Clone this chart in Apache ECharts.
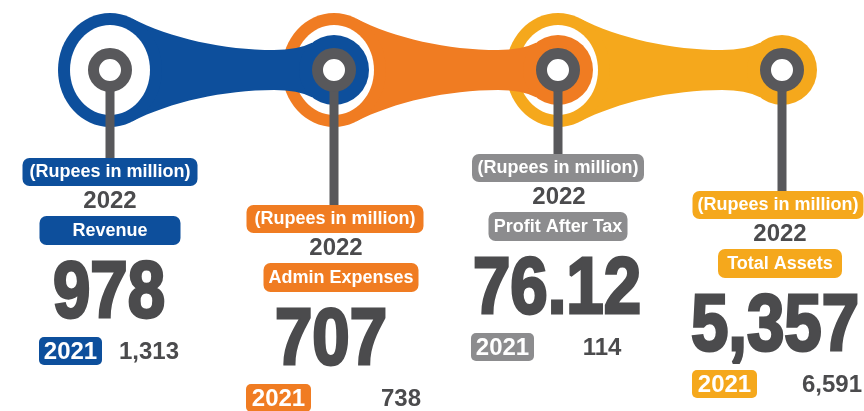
<!DOCTYPE html>
<html><head><meta charset="utf-8">
<script src="https://cdn.jsdelivr.net/npm/echarts@6/dist/echarts.min.js"></script>
<style>html,body{margin:0;padding:0;background:#fff}#c{width:864px;height:411px}</style>
</head><body><div id="c"></div>
<script>
// ---- data ----
const categories = ['Revenue', 'Admin Expenses', 'Profit After Tax', 'Total Assets'];
const values2022 = [978, 707, 76.12, 5357];
const values2021 = [1313, 738, 114, 6591];
const currentYear = '2022';
const previousYear = '2021';
const unitLabel = '(Rupees in million)';

// ---- styles / layout ----
const labelColors = ['#0d4f9c', '#f07c22', '#8c8c8e', '#f5a81c'];
const chainColors = ['#0d4f9c', '#f07c22', '#f5a81c'];
const textDark = '#4b4b4d';
const ringGrey = '#58585b';
const blockTop = [158, 205, 154, 191];
const unitDx = [0, 1, 0, -4];
const unitW = [175, 177, 172, 171];
const yearDx = [0, 2, 1, -2];
const nameDx = [0, 7, 0, -2];
const nameW = [141, 155, 139, 124];
const bigDx = [-1, -3, -1, -7];
const prevBoxDx = [-71, -88, -87, -90];
const prevBoxW = [63, 65, 63, 65];
const prevValDx = [39, 67, 44, 50];
const CY = 70;
const FONT = '"Liberation Sans", Arial, sans-serif';

function fmt(v) { return v.toLocaleString('en-US', {maximumFractionDigits: 2}); }
function txt(x, y, text, size, fill, extra) {
  return Object.assign({
    type: 'text', x: x, y: y,
    style: {text: text, font: 'bold ' + size + 'px ' + FONT, fill: fill,
      align: 'center', textAlign: 'center', verticalAlign: 'middle', textVerticalAlign: 'middle'}
  }, extra || {});
}

const chart = echarts.init(document.getElementById('c'), null, {renderer: 'canvas'});
chart.setOption({
  animation: false,
  backgroundColor: '#fff',
  grid: {left: 110, right: 82, top: 0, bottom: 0},
  xAxis: {type: 'category', data: categories, boundaryGap: false, show: false},
  yAxis: {type: 'value', min: 0, max: 1, show: false},
  series: [
    {
      type: 'custom', name: 'chain', z: 2,
      data: chainColors.map((c, i) => [i]),
      encode: {x: 0},
      renderItem: function (params, api) {
        const i = api.value(0);
        const ax = api.coord([i, 0])[0];
        const bx = api.coord([i + 1, 0])[0];
        const col = chainColors[i];
        const z = 20 - i * 5;
        const p = 'M' + (ax + 22) + ' ' + (CY - 51.6) +
          ' C' + (ax + 60) + ' ' + (CY - 32) + ' ' + (bx - 110) + ' ' + (CY - 20) + ' ' + (bx - 60) + ' ' + (CY - 20) +
          ' Q' + (bx - 36) + ' ' + (CY - 20) + ' ' + (bx - 22) + ' ' + (CY - 27.2) +
          ' L' + bx + ' ' + CY +
          ' L' + (bx - 22) + ' ' + (CY + 27.2) +
          ' Q' + (bx - 36) + ' ' + (CY + 20) + ' ' + (bx - 60) + ' ' + (CY + 20) +
          ' C' + (bx - 110) + ' ' + (CY + 20) + ' ' + (ax + 60) + ' ' + (CY + 32) + ' ' + (ax + 22) + ' ' + (CY + 51.6) +
          ' L' + ax + ' ' + CY + ' Z';
        return {type: 'group', children: [
          {type: 'path', shape: {pathData: p}, style: {fill: col}, z2: z},
          {type: 'ellipse', shape: {cx: ax, cy: CY, rx: 52, ry: 57}, style: {fill: col}, z2: z + 1},
          {type: 'ellipse', shape: {cx: ax, cy: CY, rx: 40, ry: 45}, style: {fill: '#fff'}, z2: z + 2},
          {type: 'circle', shape: {cx: bx, cy: CY, r: 35}, style: {fill: col}, z2: z + 1}
        ]};
      }
    },
    {
      type: 'custom', name: 'labels', z: 5,
      data: categories.map((c, i) => [i, values2022[i], values2021[i]]),
      encode: {x: 0},
      renderItem: function (params, api) {
        const i = api.value(0);
        const x = api.coord([i, 0])[0];
        const T = blockTop[i];
        const col = labelColors[i];
        const ch = [];
        // stem + node ring
        ch.push({type: 'rect', shape: {x: x - 4.5, y: CY, width: 9, height: T - CY + 2}, style: {fill: ringGrey}});
        ch.push({type: 'circle', shape: {cx: x, cy: CY, r: 16.5}, style: {fill: '#fff', stroke: ringGrey, lineWidth: 11}});
        // unit box
        const ux = x + unitDx[i];
        ch.push({type: 'rect', shape: {x: ux - unitW[i] / 2, y: T, width: unitW[i], height: 28, r: 7}, style: {fill: col}});
        ch.push(txt(ux, T + 14.5, unitLabel, 18, '#fff'));
        // current year
        ch.push(txt(x + yearDx[i], T + 43, currentYear, 24, textDark));
        // name box
        const nx = x + nameDx[i];
        ch.push({type: 'rect', shape: {x: nx - nameW[i] / 2, y: T + 58, width: nameW[i], height: 29, r: 7}, style: {fill: col}});
        ch.push(txt(nx, T + 73, categories[i], 18, '#fff'));
        // big value
        ch.push({
          type: 'text', x: x + bigDx[i], y: T + 137, scaleX: 0.84,
          style: {text: fmt(api.value(1)), font: 'bold 80px ' + FONT, fill: textDark, stroke: textDark, lineWidth: 3,
            align: 'center', textAlign: 'center', verticalAlign: 'middle', textVerticalAlign: 'middle'}
        });
        // previous year box + value
        const px = x + prevBoxDx[i];
        ch.push({type: 'rect', shape: {x: px, y: T + 179, width: prevBoxW[i], height: 28, r: 5}, style: {fill: col}});
        ch.push(txt(px + prevBoxW[i] / 2, T + 194, previousYear, 24, '#fff'));
        ch.push(txt(x + prevValDx[i], T + 194, fmt(api.value(2)), 24, textDark));
        return {type: 'group', children: ch};
      }
    }
  ]
});
</script>
</body></html>
